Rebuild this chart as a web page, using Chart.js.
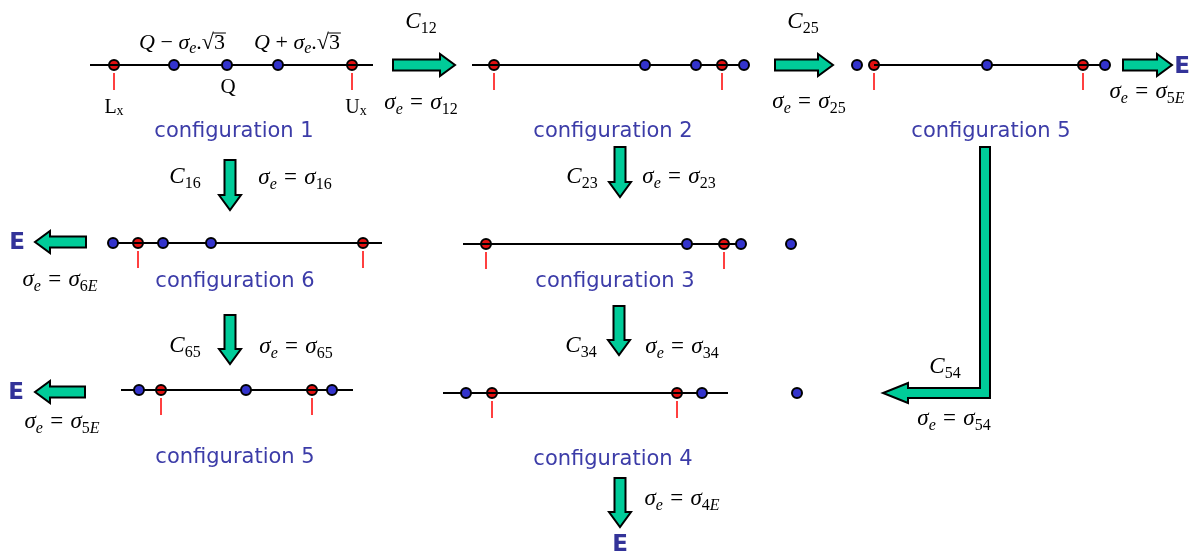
<!DOCTYPE html>
<html>
<head>
<meta charset="utf-8">
<script src="https://cdn.jsdelivr.net/npm/chart.js@4/dist/chart.umd.min.js"></script>
<style>
  html, body { margin: 0; padding: 0; background: #fff; }
  #wrap { width: 1194px; height: 557px; position: relative; }
</style>
</head>
<body>
<div id="wrap"><canvas id="diagram"></canvas></div>
<script>
// configurations, in the order they are laid out on the page
const configNames = ['configuration 1', 'configuration 2', 'configuration 5', 'configuration 6', 'configuration 3', 'configuration 5', 'configuration 4'];
const rowLevels = [65, 65, 65, 243, 244, 390, 393];
const segmentStart = [90, 472, 874, 113, 463, 121, 443];
const segmentEnd = [373, 746, 1105, 382, 742, 353, 728];
// red = bounds Lx / Ux, blue = sample points
const boundValues = [[114, 352], [494, 722], [874, 1083], [138, 363], [486, 724], [161, 312], [492, 677]];
const sampleValues = [[174, 227, 278], [645, 696, 744], [857, 987, 1105], [113, 163, 211], [687, 741, 791], [139, 246, 332], [466, 702, 797]];
const nameCenters = [234, 613, 991, 235, 615, 235, 613];
const nameLevels = [132, 132, 132, 282, 282, 458, 460];

// transitions: C labels, sigma labels, exits
const costLabels = [['12', 421, 28], ['25', 803, 28], ['16', 185, 183], ['23', 582, 183], ['65', 185, 352], ['34', 581, 352], ['54', 945, 373]];
const sigmaLabels = [['12', 421, 109], ['25', 809, 108], ['5E', 1147, 98], ['16', 295, 184], ['23', 679, 183], ['6E', 60, 286],
  ['65', 296, 353], ['5E', 62, 428], ['34', 682, 353], ['4E', 682, 505], ['54', 954, 425]];
const exitMarks = [[1182, 67], [17, 243], [16, 393], [620, 545]];

const arrows = [
  { from: [393, 65], to: [455, 65] },
  { from: [775, 65], to: [833, 65] },
  { from: [1123, 65], to: [1172, 65] },
  { from: [230, 160], to: [230, 210] },
  { from: [620, 147], to: [620, 197] },
  { from: [86, 242], to: [35, 242] },
  { from: [230, 315], to: [230, 364] },
  { from: [85, 392], to: [35, 392] },
  { from: [619, 306], to: [619, 355] },
  { from: [620, 478], to: [620, 527] }
];
const elbow = { top: [985, 147], corner: [985, 393], tip: [883, 393] };

const GREEN = '#00cc99';
const serifIt = 'italic 23px "Liberation Serif"';
const serif = '23px "Liberation Serif"';
const subIt = 'italic 16px "Liberation Serif"';
const sub = '16px "Liberation Serif"';

function subRuns(s) {
  return s.split('').map(ch => ({ text: ch, font: /[0-9]/.test(ch) ? sub : subIt, dy: 5 }));
}
function sigmaRuns(s) {
  return [{ text: 'σ', font: serifIt }, { text: 'e', font: subIt, dy: 5 }, { text: ' = ', font: serif, pad: 3 },
    { text: 'σ', font: serifIt }].concat(subRuns(s));
}
function drawRuns(ctx, runs, cx, base) {
  let total = 0;
  runs.forEach(r => { ctx.font = r.font; r.w = ctx.measureText(r.text).width + (r.pad || 0); total += r.w; });
  let x = cx - total / 2;
  ctx.textAlign = 'left';
  ctx.textBaseline = 'alphabetic';
  runs.forEach(r => {
    ctx.font = r.font;
    ctx.fillText(r.text, x + (r.pad || 0) / 2, base + (r.dy || 0));
    if (r.bar) {
      ctx.beginPath();
      ctx.moveTo(x - 1, base - 16);
      ctx.lineTo(x + r.w + 1, base - 16);
      ctx.lineWidth = 1;
      ctx.stroke();
    }
    x += r.w;
  });
}

function arrowPath(ctx, p0, p1, w, h, L) {
  const dx = p1[0] - p0[0], dy = p1[1] - p0[1];
  const len = Math.hypot(dx, dy);
  const ux = dx / len, uy = dy / len, nx = -uy, ny = ux;
  const bx = p1[0] - ux * L, by = p1[1] - uy * L;
  ctx.beginPath();
  ctx.moveTo(p0[0] + nx * w, p0[1] + ny * w);
  ctx.lineTo(bx + nx * w, by + ny * w);
  ctx.lineTo(bx + nx * h, by + ny * h);
  ctx.lineTo(p1[0], p1[1]);
  ctx.lineTo(bx - nx * h, by - ny * h);
  ctx.lineTo(bx - nx * w, by - ny * w);
  ctx.lineTo(p0[0] - nx * w, p0[1] - ny * w);
  ctx.closePath();
}

const diagramPlugin = {
  id: 'diagram',
  beforeDatasetsDraw(chart) {
    const ctx = chart.ctx, sx = chart.scales.x, sy = chart.scales.y;
    ctx.save();
    ctx.strokeStyle = '#ff0000';
    ctx.lineWidth = 1.5;
    boundValues.forEach((vals, i) => {
      vals.forEach(v => {
        const x = sx.getPixelForValue(v), y = sy.getPixelForValue(rowLevels[i]);
        ctx.beginPath();
        ctx.moveTo(x, y + 8);
        ctx.lineTo(x, y + 25);
        ctx.stroke();
      });
    });
    ctx.restore();
  },
  afterDatasetsDraw(chart) {
    const ctx = chart.ctx, sx = chart.scales.x, sy = chart.scales.y;
    const P = p => [sx.getPixelForValue(p[0]), sy.getPixelForValue(p[1])];
    ctx.save();

    // arrows
    ctx.fillStyle = GREEN;
    ctx.strokeStyle = '#000';
    ctx.lineWidth = 2;
    ctx.lineJoin = 'miter';
    arrows.forEach(a => {
      arrowPath(ctx, P(a.from), P(a.to), 5.5, 11, 15);
      ctx.fill();
      ctx.stroke();
    });
    // elbow arrow (configuration 5 -> configuration 4)
    const t = P(elbow.top), c = P(elbow.corner), tip = P(elbow.tip);
    ctx.beginPath();
    ctx.moveTo(t[0] - 5, t[1]);
    ctx.lineTo(t[0] + 5, t[1]);
    ctx.lineTo(c[0] + 5, c[1] + 5);
    ctx.lineTo(tip[0] + 25, c[1] + 5);
    ctx.lineTo(tip[0] + 25, c[1] + 10);
    ctx.lineTo(tip[0], tip[1]);
    ctx.lineTo(tip[0] + 25, c[1] - 10);
    ctx.lineTo(tip[0] + 25, c[1] - 5);
    ctx.lineTo(c[0] - 5, c[1] - 5);
    ctx.closePath();
    ctx.fill();
    ctx.stroke();

    // configuration names
    ctx.fillStyle = '#3c3ca8';
    ctx.font = '21px "DejaVu Sans"';
    ctx.textAlign = 'center';
    ctx.textBaseline = 'middle';
    configNames.forEach((n, i) => {
      ctx.fillText(n, sx.getPixelForValue(nameCenters[i]), sy.getPixelForValue(nameLevels[i]));
    });
    // exits
    ctx.fillStyle = '#333399';
    ctx.font = 'bold 23px "DejaVu Sans"';
    exitMarks.forEach(e => {
      const p = P(e);
      ctx.fillText('E', p[0], p[1]);
    });

    // math labels
    ctx.fillStyle = '#000';
    ctx.strokeStyle = '#000';
    costLabels.forEach(l => {
      const p = P([l[1], l[2]]);
      drawRuns(ctx, [{ text: 'C', font: serifIt }].concat(subRuns(l[0])), p[0], p[1]);
    });
    sigmaLabels.forEach(l => {
      const p = P([l[1], l[2]]);
      drawRuns(ctx, sigmaRuns(l[0]), p[0], p[1]);
    });
    const qSide = op => [{ text: 'Q', font: 'italic 22px "Liberation Serif"' }, { text: ' ' + op + ' ', font: '22px "Liberation Serif"' },
      { text: 'σ', font: 'italic 22px "Liberation Serif"' }, { text: 'e', font: subIt, dy: 4 }, { text: '.', font: '22px "Liberation Serif"' },
      { text: '√', font: '22px "Liberation Serif"' }, { text: '3', font: '22px "Liberation Serif"', bar: true }];
    let p = P([182, 49]);
    drawRuns(ctx, qSide('−'), p[0], p[1]);
    p = P([297, 49]);
    drawRuns(ctx, qSide('+'), p[0], p[1]);
    p = P([228, 93]);
    drawRuns(ctx, [{ text: 'Q', font: '21px "Liberation Serif"' }], p[0], p[1]);
    p = P([114, 113]);
    drawRuns(ctx, [{ text: 'L', font: '20px "Liberation Serif"' }, { text: 'x', font: '14px "Liberation Serif"', dy: 2 }], p[0], p[1]);
    p = P([356, 113]);
    drawRuns(ctx, [{ text: 'U', font: '20px "Liberation Serif"' }, { text: 'x', font: '14px "Liberation Serif"', dy: 2 }], p[0], p[1]);
    ctx.restore();
  }
};

const boundPoints = boundValues.flatMap((vals, i) => vals.map(v => ({ x: v, y: rowLevels[i] })));
const samplePoints = sampleValues.flatMap((vals, i) => vals.map(v => ({ x: v, y: rowLevels[i] })));
const lineSets = configNames.map((n, i) => ({
  label: n,
  data: [{ x: segmentStart[i], y: rowLevels[i] }, { x: segmentEnd[i], y: rowLevels[i] }],
  showLine: true,
  borderColor: '#000',
  borderWidth: 2,
  pointRadius: 0,
  clip: false,
  order: 2
}));

new Chart(document.getElementById('diagram').getContext('2d'), {
  type: 'scatter',
  data: {
    datasets: [{
      label: 'bounds',
      data: boundPoints,
      backgroundColor: '#e31010',
      borderColor: '#000',
      borderWidth: 2,
      pointRadius: 5,
      clip: false,
      order: 3
    }].concat(lineSets, [{
      label: 'samples',
      data: samplePoints,
      backgroundColor: '#3333cc',
      borderColor: '#000',
      borderWidth: 2,
      pointRadius: 5,
      clip: false,
      order: 1
    }])
  },
  options: {
    responsive: true,
    maintainAspectRatio: false,
    animation: false,
    events: [],
    layout: { padding: 0, autoPadding: false },
    plugins: { legend: { display: false }, tooltip: { enabled: false } },
    scales: {
      x: { type: 'linear', min: 0, max: 1194, display: false },
      y: { type: 'linear', min: 0, max: 557, reverse: true, display: false }
    }
  },
  plugins: [diagramPlugin]
});
</script>
</body>
</html>
